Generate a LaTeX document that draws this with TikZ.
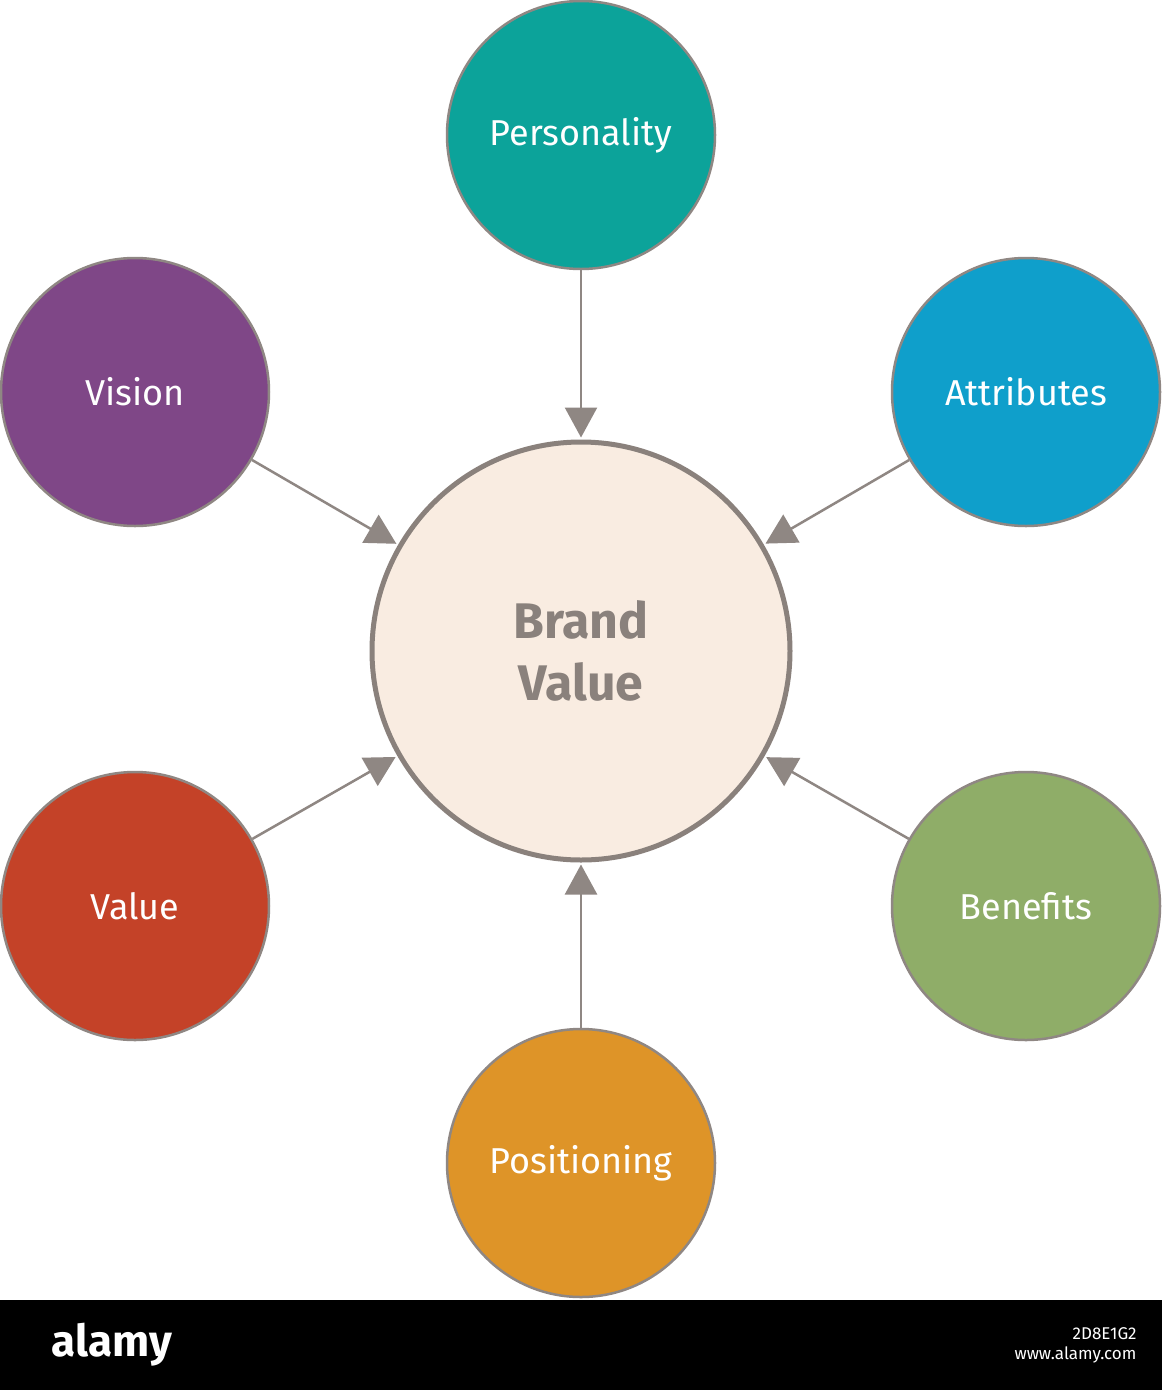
\documentclass[tikz,border=0pt]{standalone}
\usepackage{fontspec}
\setmainfont{Fira Sans}
\usetikzlibrary{arrows.meta}
\definecolor{edge}{HTML}{8F8783}
\definecolor{cedge}{HTML}{8A817C}
\definecolor{cfill}{HTML}{F9ECE1}
\definecolor{cP}{HTML}{0CA39A}
\definecolor{cV}{HTML}{7F4787}
\definecolor{cA}{HTML}{0F9FCB}
\definecolor{cVa}{HTML}{C44228}
\definecolor{cB}{HTML}{8FAD68}
\definecolor{cPo}{HTML}{DE9428}
\tikzset{
 outer/.style={circle,draw=edge,line width=2.5pt,minimum size=268pt,inner sep=0pt,text=white,font=\fontsize{36}{40}\selectfont},
 link/.style={draw=edge,line width=2.5pt,-{Triangle[length=30pt,width=32pt]},shorten >=2pt}
}
\begin{document}
\begin{tikzpicture}[x=1pt,y=-1pt]
\useasboundingbox (0,0) rectangle (1162,1390);
\fill[white] (0,0) rectangle (1162,1300);
\node[circle,draw=cedge,fill=cfill,line width=5pt,minimum size=418pt,inner sep=0pt,text=cedge,align=center,font=\bfseries\fontsize{50}{62}\selectfont] (c) at (581,651) {Brand\\Value};
\node[outer,fill=cP] (p) at (581,135) {Personality};
\node[outer,fill=cV] (v) at (135,392) {Vision};
\node[outer,fill=cA] (a) at (1026,392) {Attributes};
\node[outer,fill=cVa] (va) at (135,906) {Value};
\node[outer,fill=cB] (b) at (1026,906) {Benefits};
\node[outer,fill=cPo] (po) at (581,1163) {Positioning};
\foreach \n in {p,v,a,va,b,po} \draw[link] (\n) -- (c);
\fill[black] (0,1300) rectangle (1162,1390);
\node[text=white,font=\bfseries\fontsize{44}{48}\selectfont,anchor=west] (al) at (48,1345) {alamy};
\node[text=white,font=\fontsize{17}{20}\selectfont,align=right,anchor=east] (id) at (1140,1345) {2D8E1G2\\www.alamy.com};
\end{tikzpicture}
\end{document}
